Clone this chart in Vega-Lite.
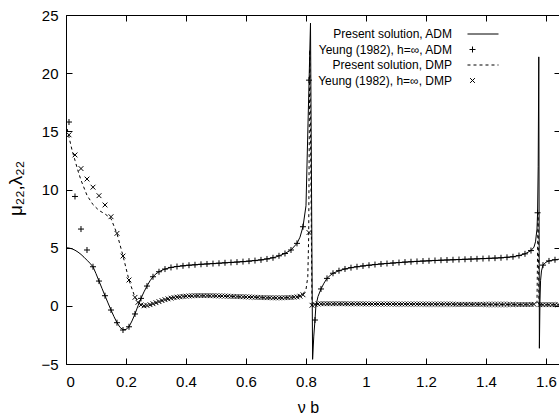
{
  "$schema": "https://vega.github.io/schema/vega-lite/v6.json",
  "width": 494,
  "height": 349,
  "autosize": {"type": "none"},
  "padding": {"left": 66, "top": 15, "right": 0, "bottom": 54},
  "config": {
    "view": {"stroke": "black", "strokeWidth": 1},
    "font": "Liberation Sans, Arial, Helvetica, sans-serif",
    "axis": {"grid": false, "domain": false, "tickColor": "black", "tickWidth": 1, "labelColor": "black", "titleColor": "black", "labelFont": "Liberation Sans, Arial, Helvetica, sans-serif", "titleFont": "Liberation Sans, Arial, Helvetica, sans-serif", "titleFontWeight": "normal"}
  },
  "datasets": {
    "adm": [
      {"x": 0, "y": 5.0}, {"x": 0.01, "y": 4.97}, {"x": 0.02, "y": 4.9}, {"x": 0.03, "y": 4.78}, {"x": 0.04, "y": 4.62}, {"x": 0.05, "y": 4.42}, {"x": 0.06, "y": 4.18}, {"x": 0.07, "y": 3.92}, {"x": 0.08, "y": 3.66}, {"x": 0.09, "y": 3.36}, {"x": 0.1, "y": 2.77}, {"x": 0.11, "y": 2.13}, {"x": 0.12, "y": 1.5}, {"x": 0.13, "y": 0.87}, {"x": 0.14, "y": 0.25}, {"x": 0.15, "y": -0.36}, {"x": 0.16, "y": -0.93}, {"x": 0.17, "y": -1.45}, {"x": 0.18, "y": -1.85}, {"x": 0.19, "y": -2.05}, {"x": 0.2, "y": -2.03}, {"x": 0.21, "y": -1.8}, {"x": 0.22, "y": -1.3}, {"x": 0.23, "y": -0.7}, {"x": 0.24, "y": 0.0}, {"x": 0.25, "y": 0.64}, {"x": 0.26, "y": 1.2}, {"x": 0.27, "y": 1.7}, {"x": 0.28, "y": 2.15}, {"x": 0.29, "y": 2.5}, {"x": 0.3, "y": 2.75}, {"x": 0.31, "y": 2.93}, {"x": 0.32, "y": 3.06}, {"x": 0.33, "y": 3.16}, {"x": 0.35, "y": 3.3}, {"x": 0.37, "y": 3.38}, {"x": 0.4, "y": 3.47}, {"x": 0.45, "y": 3.57}, {"x": 0.5, "y": 3.65}, {"x": 0.55, "y": 3.73}, {"x": 0.6, "y": 3.82}, {"x": 0.65, "y": 3.95}, {"x": 0.68, "y": 4.08}, {"x": 0.7, "y": 4.2}, {"x": 0.73, "y": 4.5}, {"x": 0.75, "y": 4.8}, {"x": 0.77, "y": 5.37}, {"x": 0.78, "y": 5.9}, {"x": 0.79, "y": 6.8}, {"x": 0.8, "y": 8.6}, {"x": 0.815, "y": 24.3}, {"x": 0.822, "y": -4.6}, {"x": 0.826, "y": -2.6}, {"x": 0.83, "y": -1.22}, {"x": 0.833, "y": 0.0}, {"x": 0.84, "y": 0.8}, {"x": 0.85, "y": 1.45}, {"x": 0.86, "y": 1.95}, {"x": 0.87, "y": 2.36}, {"x": 0.88, "y": 2.6}, {"x": 0.89, "y": 2.8}, {"x": 0.91, "y": 3.02}, {"x": 0.93, "y": 3.17}, {"x": 0.95, "y": 3.28}, {"x": 0.97, "y": 3.36}, {"x": 1.0, "y": 3.46}, {"x": 1.05, "y": 3.6}, {"x": 1.1, "y": 3.7}, {"x": 1.15, "y": 3.79}, {"x": 1.2, "y": 3.86}, {"x": 1.25, "y": 3.92}, {"x": 1.3, "y": 3.97}, {"x": 1.35, "y": 4.02}, {"x": 1.4, "y": 4.07}, {"x": 1.45, "y": 4.13}, {"x": 1.49, "y": 4.22}, {"x": 1.51, "y": 4.32}, {"x": 1.53, "y": 4.47}, {"x": 1.55, "y": 4.75}, {"x": 1.56, "y": 5.05}, {"x": 1.565, "y": 5.5}, {"x": 1.57, "y": 6.6}, {"x": 1.572, "y": 8.0}, {"x": 1.574, "y": 12.0}, {"x": 1.576, "y": 21.4}, {"x": 1.578, "y": -3.65}, {"x": 1.58, "y": 0.5}, {"x": 1.582, "y": 2.2}, {"x": 1.585, "y": 3.0}, {"x": 1.59, "y": 3.5}, {"x": 1.6, "y": 3.75}, {"x": 1.61, "y": 3.86}, {"x": 1.625, "y": 3.94}, {"x": 1.6467, "y": 4.02}
    ],
    "dmp": [
      {"x": 0, "y": 15.7}, {"x": 0.01, "y": 14.5}, {"x": 0.02, "y": 13.4}, {"x": 0.03, "y": 12.5}, {"x": 0.04, "y": 11.6}, {"x": 0.05, "y": 10.8}, {"x": 0.07, "y": 9.5}, {"x": 0.09, "y": 8.7}, {"x": 0.11, "y": 8.2}, {"x": 0.13, "y": 7.9}, {"x": 0.15, "y": 7.5}, {"x": 0.17, "y": 6.2}, {"x": 0.19, "y": 4.3}, {"x": 0.21, "y": 2.2}, {"x": 0.23, "y": 0.73}, {"x": 0.25, "y": 0.05}, {"x": 0.27, "y": -0.05}, {"x": 0.29, "y": 0.15}, {"x": 0.31, "y": 0.35}, {"x": 0.33, "y": 0.55}, {"x": 0.36, "y": 0.72}, {"x": 0.4, "y": 0.83}, {"x": 0.45, "y": 0.87}, {"x": 0.5, "y": 0.85}, {"x": 0.55, "y": 0.81}, {"x": 0.6, "y": 0.76}, {"x": 0.65, "y": 0.71}, {"x": 0.7, "y": 0.68}, {"x": 0.75, "y": 0.72}, {"x": 0.78, "y": 0.85}, {"x": 0.79, "y": 1.0}, {"x": 0.8, "y": 1.4}, {"x": 0.806, "y": 2.5}, {"x": 0.809, "y": 6.0}, {"x": 0.8125, "y": 22.0}, {"x": 0.815, "y": 15.0}, {"x": 0.82, "y": 0.0}, {"x": 0.825, "y": 0.08}, {"x": 0.83, "y": 0.14}, {"x": 0.9, "y": 0.17}, {"x": 1.0, "y": 0.16}, {"x": 1.2, "y": 0.14}, {"x": 1.4, "y": 0.12}, {"x": 1.5, "y": 0.11}, {"x": 1.565, "y": 0.15}, {"x": 1.57, "y": 0.3}, {"x": 1.5735, "y": 8.0}, {"x": 1.5765, "y": 0.0}, {"x": 1.58, "y": 0.1}, {"x": 1.6467, "y": 0.1}
    ],
    "yeung": [
      {"x": 0.01, "y": 15.8, "series": "Yeung (1982), h=∞, ADM"}, {"x": 0.03, "y": 9.4, "series": "Yeung (1982), h=∞, ADM"}, {"x": 0.05, "y": 6.6, "series": "Yeung (1982), h=∞, ADM"}, {"x": 0.07, "y": 4.8, "series": "Yeung (1982), h=∞, ADM"}, {"x": 0.09, "y": 3.36, "series": "Yeung (1982), h=∞, ADM"}, {"x": 0.11, "y": 2.13, "series": "Yeung (1982), h=∞, ADM"}, {"x": 0.13, "y": 0.87, "series": "Yeung (1982), h=∞, ADM"}, {"x": 0.15, "y": -0.36, "series": "Yeung (1982), h=∞, ADM"}, {"x": 0.17, "y": -1.45, "series": "Yeung (1982), h=∞, ADM"}, {"x": 0.19, "y": -2.08, "series": "Yeung (1982), h=∞, ADM"}, {"x": 0.21, "y": -1.8, "series": "Yeung (1982), h=∞, ADM"}, {"x": 0.23, "y": -0.7, "series": "Yeung (1982), h=∞, ADM"}, {"x": 0.25, "y": 0.64, "series": "Yeung (1982), h=∞, ADM"}, {"x": 0.27, "y": 1.7, "series": "Yeung (1982), h=∞, ADM"}, {"x": 0.29, "y": 2.5, "series": "Yeung (1982), h=∞, ADM"}, {"x": 0.31, "y": 2.93, "series": "Yeung (1982), h=∞, ADM"}, {"x": 0.33, "y": 3.16, "series": "Yeung (1982), h=∞, ADM"}, {"x": 0.35, "y": 3.3, "series": "Yeung (1982), h=∞, ADM"}, {"x": 0.37, "y": 3.38, "series": "Yeung (1982), h=∞, ADM"}, {"x": 0.39, "y": 3.44, "series": "Yeung (1982), h=∞, ADM"}, {"x": 0.41, "y": 3.49, "series": "Yeung (1982), h=∞, ADM"}, {"x": 0.43, "y": 3.53, "series": "Yeung (1982), h=∞, ADM"}, {"x": 0.45, "y": 3.57, "series": "Yeung (1982), h=∞, ADM"}, {"x": 0.47, "y": 3.6, "series": "Yeung (1982), h=∞, ADM"}, {"x": 0.49, "y": 3.63, "series": "Yeung (1982), h=∞, ADM"}, {"x": 0.51, "y": 3.66, "series": "Yeung (1982), h=∞, ADM"}, {"x": 0.53, "y": 3.7, "series": "Yeung (1982), h=∞, ADM"}, {"x": 0.55, "y": 3.73, "series": "Yeung (1982), h=∞, ADM"}, {"x": 0.57, "y": 3.76, "series": "Yeung (1982), h=∞, ADM"}, {"x": 0.59, "y": 3.8, "series": "Yeung (1982), h=∞, ADM"}, {"x": 0.61, "y": 3.84, "series": "Yeung (1982), h=∞, ADM"}, {"x": 0.63, "y": 3.89, "series": "Yeung (1982), h=∞, ADM"}, {"x": 0.65, "y": 3.95, "series": "Yeung (1982), h=∞, ADM"}, {"x": 0.67, "y": 4.03, "series": "Yeung (1982), h=∞, ADM"}, {"x": 0.69, "y": 4.13, "series": "Yeung (1982), h=∞, ADM"}, {"x": 0.71, "y": 4.3, "series": "Yeung (1982), h=∞, ADM"}, {"x": 0.73, "y": 4.5, "series": "Yeung (1982), h=∞, ADM"}, {"x": 0.75, "y": 4.8, "series": "Yeung (1982), h=∞, ADM"}, {"x": 0.77, "y": 5.37, "series": "Yeung (1982), h=∞, ADM"}, {"x": 0.79, "y": 6.8, "series": "Yeung (1982), h=∞, ADM"}, {"x": 0.81, "y": 19.4, "series": "Yeung (1982), h=∞, ADM"}, {"x": 0.83, "y": -1.22, "series": "Yeung (1982), h=∞, ADM"}, {"x": 0.85, "y": 1.45, "series": "Yeung (1982), h=∞, ADM"}, {"x": 0.87, "y": 2.36, "series": "Yeung (1982), h=∞, ADM"}, {"x": 0.89, "y": 2.8, "series": "Yeung (1982), h=∞, ADM"}, {"x": 0.91, "y": 3.02, "series": "Yeung (1982), h=∞, ADM"}, {"x": 0.93, "y": 3.17, "series": "Yeung (1982), h=∞, ADM"}, {"x": 0.95, "y": 3.28, "series": "Yeung (1982), h=∞, ADM"}, {"x": 0.97, "y": 3.36, "series": "Yeung (1982), h=∞, ADM"}, {"x": 0.99, "y": 3.43, "series": "Yeung (1982), h=∞, ADM"}, {"x": 1.01, "y": 3.49, "series": "Yeung (1982), h=∞, ADM"}, {"x": 1.03, "y": 3.55, "series": "Yeung (1982), h=∞, ADM"}, {"x": 1.05, "y": 3.6, "series": "Yeung (1982), h=∞, ADM"}, {"x": 1.07, "y": 3.64, "series": "Yeung (1982), h=∞, ADM"}, {"x": 1.09, "y": 3.68, "series": "Yeung (1982), h=∞, ADM"}, {"x": 1.11, "y": 3.72, "series": "Yeung (1982), h=∞, ADM"}, {"x": 1.13, "y": 3.76, "series": "Yeung (1982), h=∞, ADM"}, {"x": 1.15, "y": 3.79, "series": "Yeung (1982), h=∞, ADM"}, {"x": 1.17, "y": 3.82, "series": "Yeung (1982), h=∞, ADM"}, {"x": 1.19, "y": 3.85, "series": "Yeung (1982), h=∞, ADM"}, {"x": 1.21, "y": 3.87, "series": "Yeung (1982), h=∞, ADM"}, {"x": 1.23, "y": 3.9, "series": "Yeung (1982), h=∞, ADM"}, {"x": 1.25, "y": 3.92, "series": "Yeung (1982), h=∞, ADM"}, {"x": 1.27, "y": 3.94, "series": "Yeung (1982), h=∞, ADM"}, {"x": 1.29, "y": 3.96, "series": "Yeung (1982), h=∞, ADM"}, {"x": 1.31, "y": 3.98, "series": "Yeung (1982), h=∞, ADM"}, {"x": 1.33, "y": 4.0, "series": "Yeung (1982), h=∞, ADM"}, {"x": 1.35, "y": 4.02, "series": "Yeung (1982), h=∞, ADM"}, {"x": 1.37, "y": 4.04, "series": "Yeung (1982), h=∞, ADM"}, {"x": 1.39, "y": 4.06, "series": "Yeung (1982), h=∞, ADM"}, {"x": 1.41, "y": 4.08, "series": "Yeung (1982), h=∞, ADM"}, {"x": 1.43, "y": 4.1, "series": "Yeung (1982), h=∞, ADM"}, {"x": 1.45, "y": 4.13, "series": "Yeung (1982), h=∞, ADM"}, {"x": 1.47, "y": 4.17, "series": "Yeung (1982), h=∞, ADM"}, {"x": 1.49, "y": 4.22, "series": "Yeung (1982), h=∞, ADM"}, {"x": 1.51, "y": 4.32, "series": "Yeung (1982), h=∞, ADM"}, {"x": 1.53, "y": 4.47, "series": "Yeung (1982), h=∞, ADM"}, {"x": 1.55, "y": 4.75, "series": "Yeung (1982), h=∞, ADM"}, {"x": 1.572, "y": 8.0, "series": "Yeung (1982), h=∞, ADM"}, {"x": 1.59, "y": 3.5, "series": "Yeung (1982), h=∞, ADM"}, {"x": 1.61, "y": 3.86, "series": "Yeung (1982), h=∞, ADM"}, {"x": 1.63, "y": 3.96, "series": "Yeung (1982), h=∞, ADM"},
      {"x": 0.01, "y": 14.7, "series": "Yeung (1982), h=∞, DMP"}, {"x": 0.03, "y": 12.97, "series": "Yeung (1982), h=∞, DMP"}, {"x": 0.05, "y": 11.8, "series": "Yeung (1982), h=∞, DMP"}, {"x": 0.07, "y": 10.9, "series": "Yeung (1982), h=∞, DMP"}, {"x": 0.09, "y": 10.2, "series": "Yeung (1982), h=∞, DMP"}, {"x": 0.11, "y": 9.47, "series": "Yeung (1982), h=∞, DMP"}, {"x": 0.13, "y": 8.67, "series": "Yeung (1982), h=∞, DMP"}, {"x": 0.15, "y": 7.66, "series": "Yeung (1982), h=∞, DMP"}, {"x": 0.17, "y": 6.23, "series": "Yeung (1982), h=∞, DMP"}, {"x": 0.19, "y": 4.28, "series": "Yeung (1982), h=∞, DMP"}, {"x": 0.21, "y": 2.22, "series": "Yeung (1982), h=∞, DMP"}, {"x": 0.23, "y": 0.73, "series": "Yeung (1982), h=∞, DMP"},
      {"x": 0.24, "y": 0.3, "series": "Yeung (1982), h=∞, DMP"}, {"x": 0.25, "y": 0.08, "series": "Yeung (1982), h=∞, DMP"}, {"x": 0.26, "y": 0.0, "series": "Yeung (1982), h=∞, DMP"}, {"x": 0.27, "y": 0.03, "series": "Yeung (1982), h=∞, DMP"}, {"x": 0.28, "y": 0.1, "series": "Yeung (1982), h=∞, DMP"}, {"x": 0.29, "y": 0.18, "series": "Yeung (1982), h=∞, DMP"}, {"x": 0.3, "y": 0.27, "series": "Yeung (1982), h=∞, DMP"}, {"x": 0.31, "y": 0.36, "series": "Yeung (1982), h=∞, DMP"}, {"x": 0.32, "y": 0.45, "series": "Yeung (1982), h=∞, DMP"}, {"x": 0.33, "y": 0.53, "series": "Yeung (1982), h=∞, DMP"}, {"x": 0.34, "y": 0.6, "series": "Yeung (1982), h=∞, DMP"}, {"x": 0.35, "y": 0.66, "series": "Yeung (1982), h=∞, DMP"}, {"x": 0.36, "y": 0.71, "series": "Yeung (1982), h=∞, DMP"}, {"x": 0.37, "y": 0.75, "series": "Yeung (1982), h=∞, DMP"}, {"x": 0.38, "y": 0.78, "series": "Yeung (1982), h=∞, DMP"}, {"x": 0.39, "y": 0.81, "series": "Yeung (1982), h=∞, DMP"}, {"x": 0.4, "y": 0.83, "series": "Yeung (1982), h=∞, DMP"}, {"x": 0.41, "y": 0.85, "series": "Yeung (1982), h=∞, DMP"}, {"x": 0.42, "y": 0.86, "series": "Yeung (1982), h=∞, DMP"}, {"x": 0.43, "y": 0.87, "series": "Yeung (1982), h=∞, DMP"}, {"x": 0.44, "y": 0.88, "series": "Yeung (1982), h=∞, DMP"}, {"x": 0.45, "y": 0.88, "series": "Yeung (1982), h=∞, DMP"}, {"x": 0.46, "y": 0.88, "series": "Yeung (1982), h=∞, DMP"}, {"x": 0.47, "y": 0.88, "series": "Yeung (1982), h=∞, DMP"}, {"x": 0.48, "y": 0.87, "series": "Yeung (1982), h=∞, DMP"}, {"x": 0.49, "y": 0.87, "series": "Yeung (1982), h=∞, DMP"}, {"x": 0.5, "y": 0.86, "series": "Yeung (1982), h=∞, DMP"}, {"x": 0.51, "y": 0.85, "series": "Yeung (1982), h=∞, DMP"}, {"x": 0.52, "y": 0.85, "series": "Yeung (1982), h=∞, DMP"}, {"x": 0.53, "y": 0.84, "series": "Yeung (1982), h=∞, DMP"}, {"x": 0.54, "y": 0.83, "series": "Yeung (1982), h=∞, DMP"}, {"x": 0.55, "y": 0.82, "series": "Yeung (1982), h=∞, DMP"}, {"x": 0.56, "y": 0.81, "series": "Yeung (1982), h=∞, DMP"}, {"x": 0.57, "y": 0.8, "series": "Yeung (1982), h=∞, DMP"}, {"x": 0.58, "y": 0.79, "series": "Yeung (1982), h=∞, DMP"}, {"x": 0.59, "y": 0.78, "series": "Yeung (1982), h=∞, DMP"}, {"x": 0.6, "y": 0.77, "series": "Yeung (1982), h=∞, DMP"}, {"x": 0.61, "y": 0.76, "series": "Yeung (1982), h=∞, DMP"}, {"x": 0.62, "y": 0.75, "series": "Yeung (1982), h=∞, DMP"}, {"x": 0.63, "y": 0.74, "series": "Yeung (1982), h=∞, DMP"}, {"x": 0.64, "y": 0.73, "series": "Yeung (1982), h=∞, DMP"}, {"x": 0.65, "y": 0.72, "series": "Yeung (1982), h=∞, DMP"}, {"x": 0.66, "y": 0.71, "series": "Yeung (1982), h=∞, DMP"}, {"x": 0.67, "y": 0.7, "series": "Yeung (1982), h=∞, DMP"}, {"x": 0.68, "y": 0.7, "series": "Yeung (1982), h=∞, DMP"}, {"x": 0.69, "y": 0.69, "series": "Yeung (1982), h=∞, DMP"}, {"x": 0.7, "y": 0.69, "series": "Yeung (1982), h=∞, DMP"}, {"x": 0.71, "y": 0.69, "series": "Yeung (1982), h=∞, DMP"}, {"x": 0.72, "y": 0.69, "series": "Yeung (1982), h=∞, DMP"}, {"x": 0.73, "y": 0.7, "series": "Yeung (1982), h=∞, DMP"}, {"x": 0.74, "y": 0.71, "series": "Yeung (1982), h=∞, DMP"}, {"x": 0.75, "y": 0.72, "series": "Yeung (1982), h=∞, DMP"}, {"x": 0.76, "y": 0.74, "series": "Yeung (1982), h=∞, DMP"}, {"x": 0.77, "y": 0.77, "series": "Yeung (1982), h=∞, DMP"}, {"x": 0.78, "y": 0.83, "series": "Yeung (1982), h=∞, DMP"}, {"x": 0.79, "y": 0.95, "series": "Yeung (1982), h=∞, DMP"}, {"x": 0.81, "y": 6.3, "series": "Yeung (1982), h=∞, DMP"},
      {"x": 0.82, "y": 0.05, "series": "Yeung (1982), h=∞, DMP"}, {"x": 0.83, "y": 0.12, "series": "Yeung (1982), h=∞, DMP"}, {"x": 0.84, "y": 0.16, "series": "Yeung (1982), h=∞, DMP"}, {"x": 0.85, "y": 0.18, "series": "Yeung (1982), h=∞, DMP"}, {"x": 0.86, "y": 0.18, "series": "Yeung (1982), h=∞, DMP"}, {"x": 0.87, "y": 0.18, "series": "Yeung (1982), h=∞, DMP"}, {"x": 0.88, "y": 0.18, "series": "Yeung (1982), h=∞, DMP"}, {"x": 0.89, "y": 0.18, "series": "Yeung (1982), h=∞, DMP"}, {"x": 0.9, "y": 0.18, "series": "Yeung (1982), h=∞, DMP"}, {"x": 0.91, "y": 0.18, "series": "Yeung (1982), h=∞, DMP"}, {"x": 0.92, "y": 0.18, "series": "Yeung (1982), h=∞, DMP"}, {"x": 0.93, "y": 0.18, "series": "Yeung (1982), h=∞, DMP"}, {"x": 0.94, "y": 0.17, "series": "Yeung (1982), h=∞, DMP"}, {"x": 0.95, "y": 0.17, "series": "Yeung (1982), h=∞, DMP"}, {"x": 0.96, "y": 0.17, "series": "Yeung (1982), h=∞, DMP"}, {"x": 0.97, "y": 0.17, "series": "Yeung (1982), h=∞, DMP"}, {"x": 0.98, "y": 0.17, "series": "Yeung (1982), h=∞, DMP"}, {"x": 0.99, "y": 0.17, "series": "Yeung (1982), h=∞, DMP"}, {"x": 1.0, "y": 0.16, "series": "Yeung (1982), h=∞, DMP"}, {"x": 1.01, "y": 0.16, "series": "Yeung (1982), h=∞, DMP"}, {"x": 1.02, "y": 0.16, "series": "Yeung (1982), h=∞, DMP"}, {"x": 1.03, "y": 0.16, "series": "Yeung (1982), h=∞, DMP"}, {"x": 1.04, "y": 0.16, "series": "Yeung (1982), h=∞, DMP"}, {"x": 1.05, "y": 0.16, "series": "Yeung (1982), h=∞, DMP"}, {"x": 1.06, "y": 0.16, "series": "Yeung (1982), h=∞, DMP"}, {"x": 1.07, "y": 0.16, "series": "Yeung (1982), h=∞, DMP"}, {"x": 1.08, "y": 0.16, "series": "Yeung (1982), h=∞, DMP"}, {"x": 1.09, "y": 0.16, "series": "Yeung (1982), h=∞, DMP"}, {"x": 1.1, "y": 0.15, "series": "Yeung (1982), h=∞, DMP"}, {"x": 1.11, "y": 0.15, "series": "Yeung (1982), h=∞, DMP"}, {"x": 1.12, "y": 0.15, "series": "Yeung (1982), h=∞, DMP"}, {"x": 1.13, "y": 0.15, "series": "Yeung (1982), h=∞, DMP"}, {"x": 1.14, "y": 0.15, "series": "Yeung (1982), h=∞, DMP"}, {"x": 1.15, "y": 0.15, "series": "Yeung (1982), h=∞, DMP"}, {"x": 1.16, "y": 0.15, "series": "Yeung (1982), h=∞, DMP"}, {"x": 1.17, "y": 0.15, "series": "Yeung (1982), h=∞, DMP"}, {"x": 1.18, "y": 0.15, "series": "Yeung (1982), h=∞, DMP"}, {"x": 1.19, "y": 0.15, "series": "Yeung (1982), h=∞, DMP"}, {"x": 1.2, "y": 0.14, "series": "Yeung (1982), h=∞, DMP"}, {"x": 1.21, "y": 0.14, "series": "Yeung (1982), h=∞, DMP"}, {"x": 1.22, "y": 0.14, "series": "Yeung (1982), h=∞, DMP"}, {"x": 1.23, "y": 0.14, "series": "Yeung (1982), h=∞, DMP"}, {"x": 1.24, "y": 0.14, "series": "Yeung (1982), h=∞, DMP"}, {"x": 1.25, "y": 0.14, "series": "Yeung (1982), h=∞, DMP"}, {"x": 1.26, "y": 0.14, "series": "Yeung (1982), h=∞, DMP"}, {"x": 1.27, "y": 0.14, "series": "Yeung (1982), h=∞, DMP"}, {"x": 1.28, "y": 0.14, "series": "Yeung (1982), h=∞, DMP"}, {"x": 1.29, "y": 0.14, "series": "Yeung (1982), h=∞, DMP"}, {"x": 1.3, "y": 0.13, "series": "Yeung (1982), h=∞, DMP"}, {"x": 1.31, "y": 0.13, "series": "Yeung (1982), h=∞, DMP"}, {"x": 1.32, "y": 0.13, "series": "Yeung (1982), h=∞, DMP"}, {"x": 1.33, "y": 0.13, "series": "Yeung (1982), h=∞, DMP"}, {"x": 1.34, "y": 0.13, "series": "Yeung (1982), h=∞, DMP"}, {"x": 1.35, "y": 0.13, "series": "Yeung (1982), h=∞, DMP"}, {"x": 1.36, "y": 0.13, "series": "Yeung (1982), h=∞, DMP"}, {"x": 1.37, "y": 0.13, "series": "Yeung (1982), h=∞, DMP"}, {"x": 1.38, "y": 0.13, "series": "Yeung (1982), h=∞, DMP"}, {"x": 1.39, "y": 0.13, "series": "Yeung (1982), h=∞, DMP"}, {"x": 1.4, "y": 0.12, "series": "Yeung (1982), h=∞, DMP"}, {"x": 1.41, "y": 0.12, "series": "Yeung (1982), h=∞, DMP"}, {"x": 1.42, "y": 0.12, "series": "Yeung (1982), h=∞, DMP"}, {"x": 1.43, "y": 0.12, "series": "Yeung (1982), h=∞, DMP"}, {"x": 1.44, "y": 0.12, "series": "Yeung (1982), h=∞, DMP"}, {"x": 1.45, "y": 0.12, "series": "Yeung (1982), h=∞, DMP"}, {"x": 1.46, "y": 0.12, "series": "Yeung (1982), h=∞, DMP"}, {"x": 1.47, "y": 0.12, "series": "Yeung (1982), h=∞, DMP"}, {"x": 1.48, "y": 0.12, "series": "Yeung (1982), h=∞, DMP"}, {"x": 1.49, "y": 0.12, "series": "Yeung (1982), h=∞, DMP"}, {"x": 1.5, "y": 0.11, "series": "Yeung (1982), h=∞, DMP"}, {"x": 1.51, "y": 0.11, "series": "Yeung (1982), h=∞, DMP"}, {"x": 1.52, "y": 0.11, "series": "Yeung (1982), h=∞, DMP"}, {"x": 1.53, "y": 0.11, "series": "Yeung (1982), h=∞, DMP"}, {"x": 1.54, "y": 0.11, "series": "Yeung (1982), h=∞, DMP"}, {"x": 1.55, "y": 0.12, "series": "Yeung (1982), h=∞, DMP"}, {"x": 1.56, "y": 0.13, "series": "Yeung (1982), h=∞, DMP"}, {"x": 1.58, "y": 0.1, "series": "Yeung (1982), h=∞, DMP"}, {"x": 1.59, "y": 0.1, "series": "Yeung (1982), h=∞, DMP"}, {"x": 1.6, "y": 0.1, "series": "Yeung (1982), h=∞, DMP"}, {"x": 1.61, "y": 0.1, "series": "Yeung (1982), h=∞, DMP"}, {"x": 1.62, "y": 0.1, "series": "Yeung (1982), h=∞, DMP"}, {"x": 1.63, "y": 0.1, "series": "Yeung (1982), h=∞, DMP"}, {"x": 1.64, "y": 0.1, "series": "Yeung (1982), h=∞, DMP"}
    ]
  },
  "layer": [
    {
      "data": {"name": "adm"},
      "mark": {"type": "line", "color": "black", "strokeWidth": 1, "clip": true},
      "encoding": {
        "x": {"field": "x", "type": "quantitative", "scale": {"domain": [0, 1.6467], "nice": false, "zero": false},
          "axis": {"orient": "bottom", "values": [0, 0.2, 0.4, 0.6, 0.8, 1, 1.2, 1.4, 1.6], "format": "~g", "tickSize": -6, "labelFontSize": 15, "labelPadding": 16, "title": "ν b", "titleFontSize": 16, "titleX": 242, "titleY": 43, "titleBaseline": "middle"}},
        "y": {"field": "y", "type": "quantitative", "scale": {"domain": [-5, 25], "nice": false, "zero": false},
          "axis": {"orient": "left", "values": [-5, 0, 5, 10, 15, 20, 25], "tickSize": -6, "labelFontSize": 15, "labelPadding": 14, "title": "μ₂₂,λ₂₂", "titleFontSize": 19, "titleX": -51, "titleY": 173, "titleAngle": -90, "titleAlign": "center", "titleBaseline": "middle"}}
      }
    },
    {
      "data": {"name": "dmp"},
      "mark": {"type": "line", "color": "black", "strokeWidth": 1, "strokeDash": [3, 3], "clip": true},
      "encoding": {
        "x": {"field": "x", "type": "quantitative", "axis": {"orient": "top", "values": [0, 0.2, 0.4, 0.6, 0.8, 1, 1.2, 1.4, 1.6], "labels": false, "tickSize": -6, "title": null}},
        "y": {"field": "y", "type": "quantitative", "axis": {"orient": "right", "values": [-5, 0, 5, 10, 15, 20, 25], "labels": false, "tickSize": -6, "title": null}}
      }
    },
    {
      "mark": {"type": "rule", "color": "black", "strokeWidth": 1},
      "encoding": {"y": {"datum": 0, "type": "quantitative", "axis": null}}
    },
    {
      "data": {"name": "yeung"},
      "mark": {"type": "point", "filled": false, "color": "black", "strokeWidth": 1, "size": 36, "opacity": 1, "clip": true},
      "encoding": {
        "x": {"field": "x", "type": "quantitative", "axis": null},
        "y": {"field": "y", "type": "quantitative", "axis": null},
        "shape": {
          "field": "series", "type": "nominal",
          "scale": {
            "domain": ["Present solution, ADM", "Yeung (1982), h=∞, ADM", "Present solution, DMP", "Yeung (1982), h=∞, DMP"],
            "range": ["M-1.67,0H8.67", "M-1,0H1M0,-1V1", "M-1.67,0H-0.67M0.33,0H1.33M2.33,0H3.33M4.33,0H5.33M6.33,0H7.33M8.33,0H8.67", "M-0.8,-0.8L0.8,0.8M-0.8,0.8L0.8,-0.8"]
          },
          "legend": {"orient": "none", "legendX": 400.5, "legendY": 13, "title": null, "padding": 0, "labelAlign": "right", "labelOffset": -26.5, "labelFontSize": 12, "labelFont": "Liberation Sans, Arial, Helvetica, sans-serif", "labelColor": "black", "labelLimit": 0, "symbolSize": 36, "symbolStrokeWidth": 1, "symbolStrokeColor": "black", "symbolFillColor": "transparent", "rowPadding": 3.5}
        }
      }
    }
  ]
}
